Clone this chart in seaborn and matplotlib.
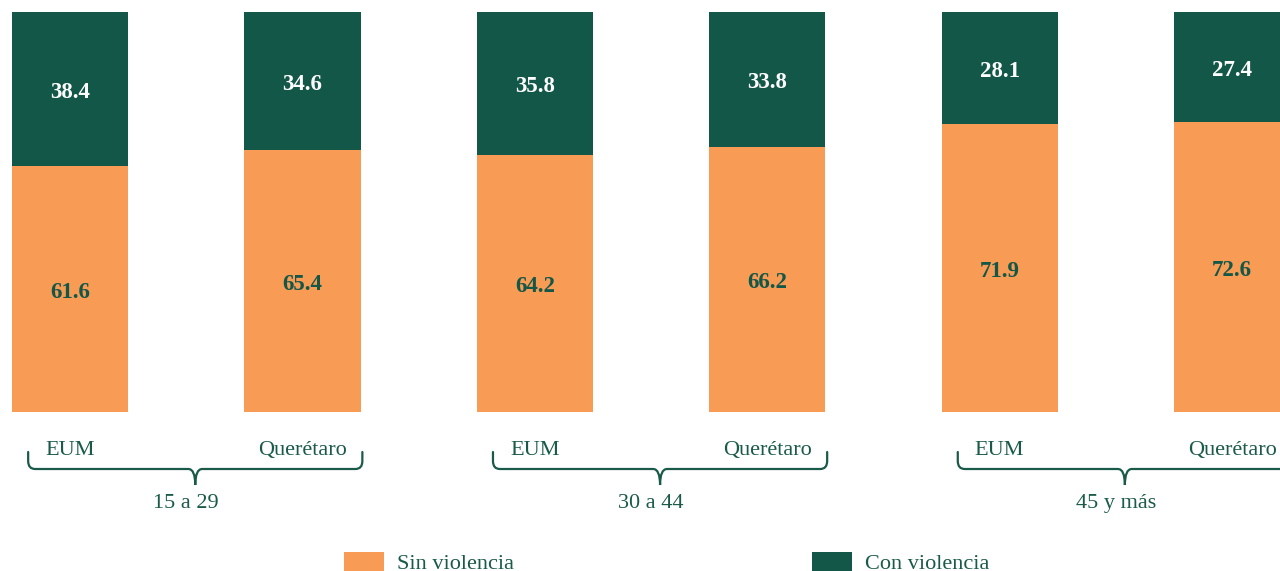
import pandas as pd
import matplotlib.pyplot as plt
import seaborn as sns
from matplotlib.patches import Patch, PathPatch
from matplotlib.path import Path

# Datos
grupos = ['15 a 29', '30 a 44', '45 y más']
entidades = ['EUM', 'Querétaro']
sin_violencia = [61.6, 65.4, 64.2, 66.2, 71.9, 72.6]
con_violencia = [38.4, 34.6, 35.8, 33.8, 28.1, 27.4]

NARANJA = '#F79B55'
VERDE = '#135748'
TEXTO = '#1a5a49'

sns.set_theme(style="white")
plt.rcParams['font.family'] = ['Liberation Serif', 'DejaVu Serif']

barras = [f'{g}|{e}' for g in grupos for e in entidades]
df = pd.DataFrame({'barra': barras, 'sin': sin_violencia, 'con': con_violencia})
df['total'] = df['sin'] + df['con']

fig = plt.figure(figsize=(12.8, 5.71), dpi=100)
ax = fig.add_axes([0, 0, 1, 1])

sns.barplot(data=df, x='barra', y='total', color=VERDE, width=0.5,
            saturation=1, linewidth=0, ax=ax)
sns.barplot(data=df, x='barra', y='sin', color=NARANJA, width=0.5,
            saturation=1, linewidth=0, ax=ax)

ax.set_xlim(-0.3012, 5.2065)
ax.set_ylim(-39.75, 103)
ax.axis('off')

dy = -0.8  # ajuste vertical del texto

# Etiquetas de valores
for i, row in df.iterrows():
    ax.text(i, row['sin'] / 2 + dy, f"{row['sin']:.1f}", ha='center', va='center',
            fontsize=16.5, fontweight='bold', color=VERDE)
    ax.text(i, row['sin'] + row['con'] / 2 + dy, f"{row['con']:.1f}", ha='center',
            va='center', fontsize=16.5, fontweight='bold', color='white')

# Etiquetas de entidades
for i, b in enumerate(barras):
    ax.text(i, -8.75 + dy, b.split('|')[1], ha='center', va='center', fontsize=16, color=TEXTO)


def llave(ax, xl, xr, y_top=-10, y_line=-14.25, y_tip=-18.25):
    xm = (xl + xr) / 2
    rx, ry = 0.03, 2.0
    verts = [(xl, y_top), (xl, y_line + ry), (xl, y_line), (xl + rx, y_line),
             (xm - rx, y_line), (xm, y_line), (xm, y_tip),
             (xm, y_line), (xm + rx, y_line),
             (xr - rx, y_line), (xr, y_line), (xr, y_line + ry), (xr, y_top)]
    codes = [Path.MOVETO, Path.LINETO, Path.CURVE3, Path.CURVE3,
             Path.LINETO, Path.CURVE3, Path.CURVE3,
             Path.CURVE3, Path.CURVE3,
             Path.LINETO, Path.CURVE3, Path.CURVE3, Path.LINETO]
    ax.add_patch(PathPatch(Path(verts, codes), fill=False, edgecolor=TEXTO,
                           linewidth=1.6, capstyle='round', clip_on=False))


for k, g in enumerate(grupos):
    x0 = 2 * k
    llave(ax, x0 - 0.18, x0 + 1 + 0.258)
    ax.text(x0 + 0.5, -22 + dy, g, ha='center', va='center', fontsize=16, color=TEXTO)

# Leyenda
handles = [Patch(facecolor=NARANJA, edgecolor='none', label='Sin violencia'),
           Patch(facecolor=VERDE, edgecolor='none', label='Con violencia')]
leg = fig.legend(handles=handles, loc='center', bbox_to_anchor=(0.5207, 0.0145),
                 ncol=2, frameon=False, fontsize=16, handlelength=1.8,
                 handleheight=0.95, handletextpad=0.6, columnspacing=13.4,
                 borderpad=0)
for t in leg.get_texts():
    t.set_color(TEXTO)

fig.savefig('out.png', dpi=100)
plt.close()
